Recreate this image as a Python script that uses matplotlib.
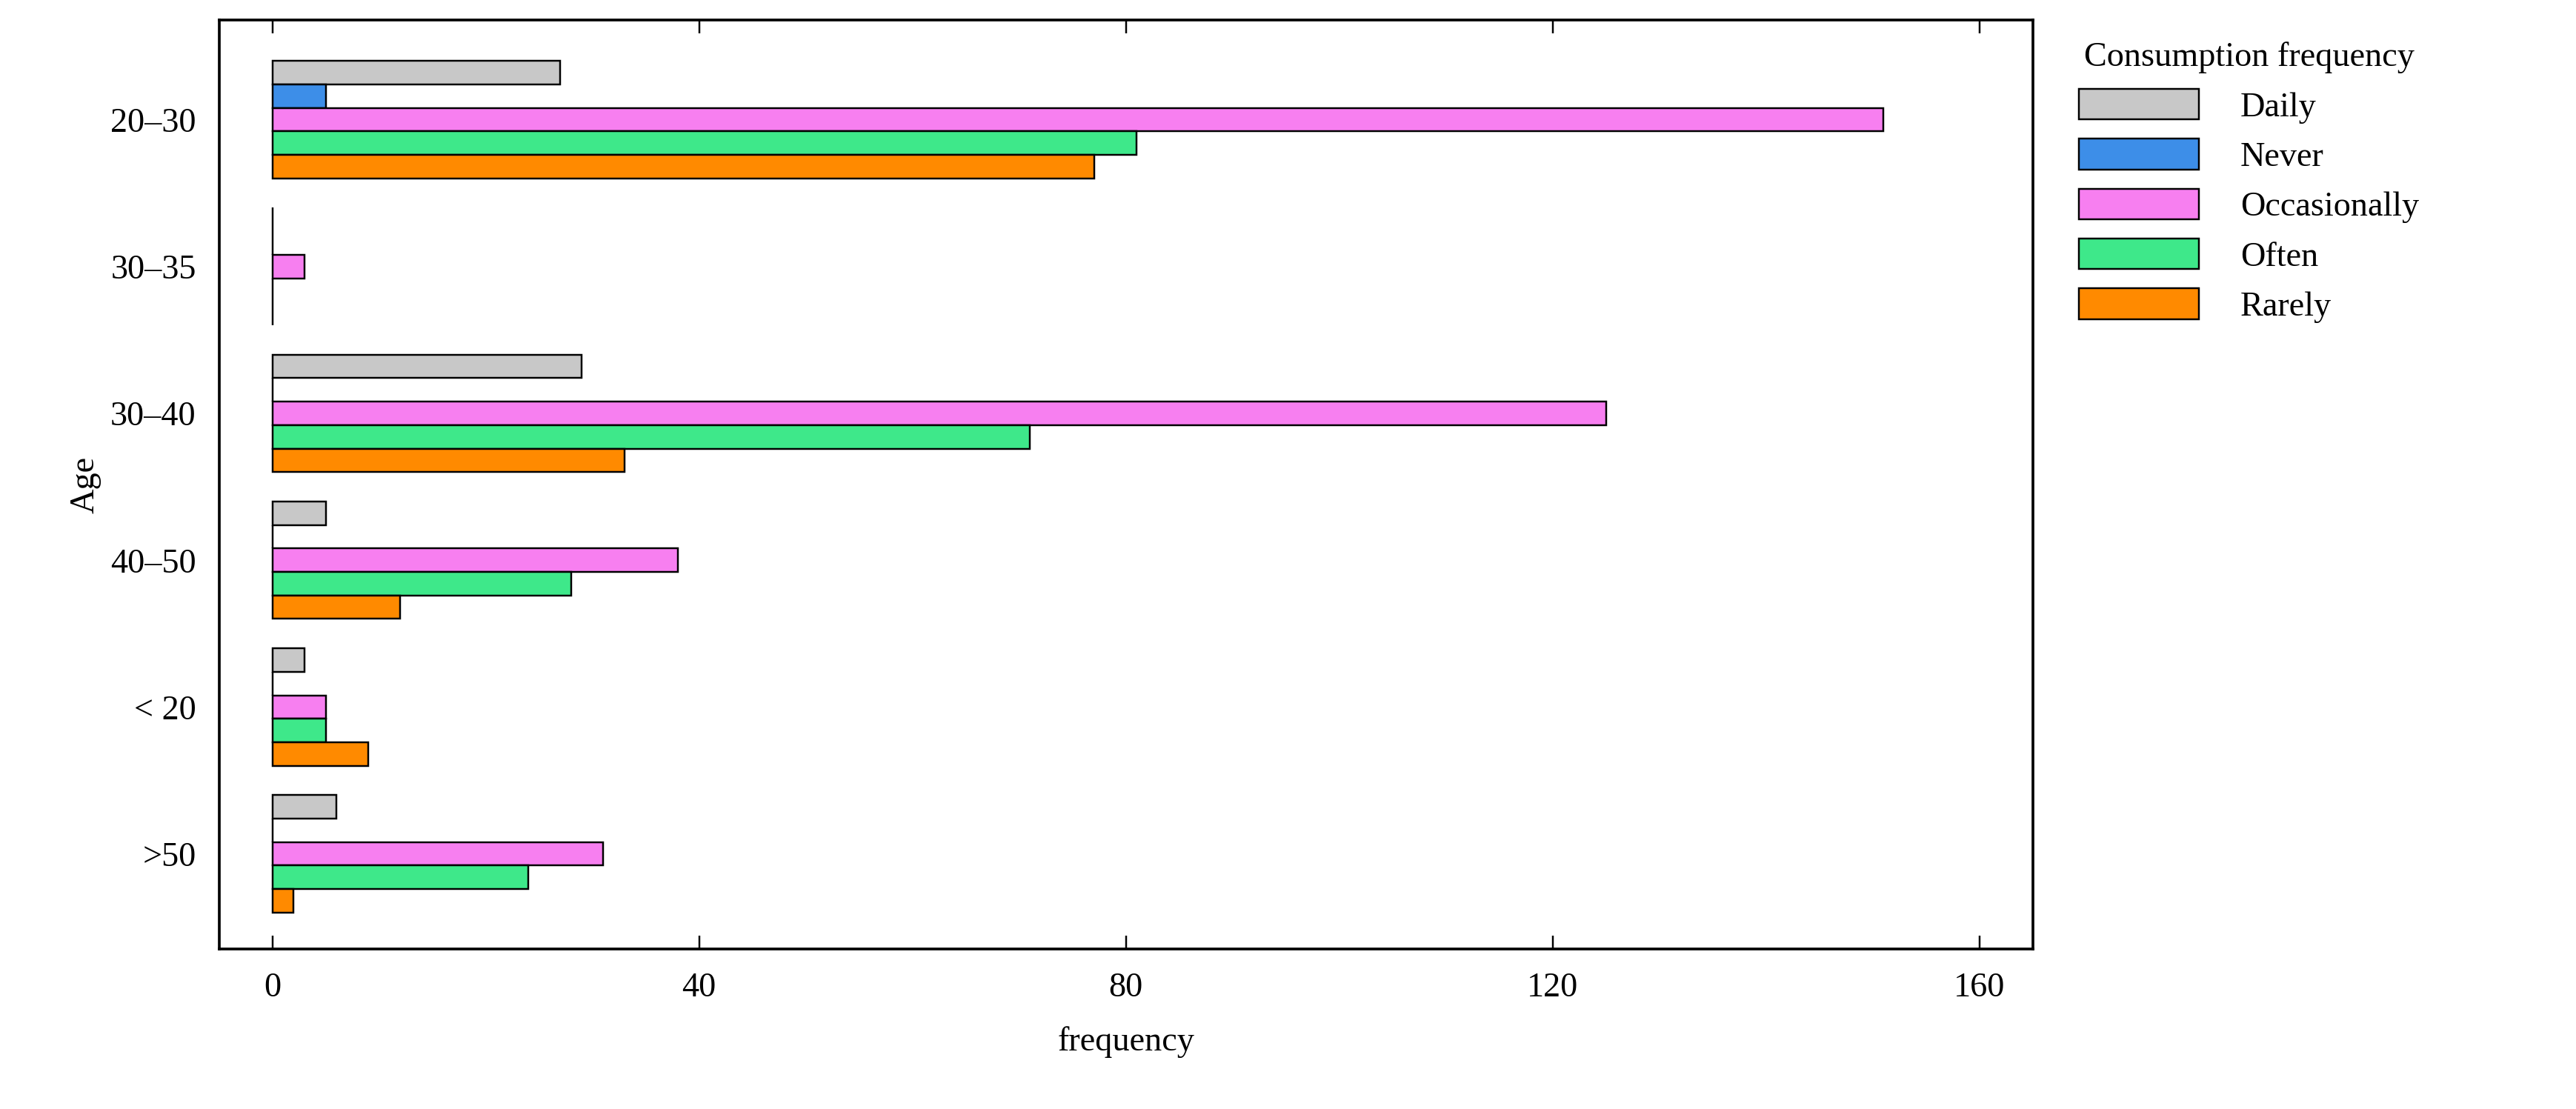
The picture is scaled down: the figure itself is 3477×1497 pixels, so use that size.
import matplotlib
matplotlib.use("Agg")
import matplotlib.pyplot as plt
import numpy as np

plt.rcParams["font.family"] = ["Liberation Serif", "DejaVu Serif"]

ages = ["20–30", "30–35", "30–40", "40–50", "< 20", ">50"]
series = ["Daily", "Never", "Occasionally", "Often", "Rarely"]
colors = ["#c8c8c8", "#3d8ee8", "#f77ff0", "#3ee88a", "#ff8a00"]
values = {
    "Daily": [27, 0, 29, 5, 3, 6],
    "Never": [5, 0, 0, 0, 0, 0],
    "Occasionally": [151, 3, 125, 38, 5, 31],
    "Often": [81, 0, 71, 28, 5, 24],
    "Rarely": [77, 0, 33, 12, 9, 2],
}

fig = plt.figure(figsize=(15.68, 6.75), dpi=221.8)
ax = fig.add_axes([0.085, 0.144, 0.704, 0.838])

y = np.arange(len(ages))
h = 0.16
for i, (name, c) in enumerate(zip(series, colors)):
    ax.barh(y + (i - 2) * h, values[name], height=h, color=c,
            edgecolor="black", linewidth=0.8, label=name)

ax.set_yticks(y)
ax.set_yticklabels(ages)
ax.set_xticks([0, 40, 80, 120, 160])
ax.set_xlim(-5, 165)
ax.set_ylim(5.65, -0.68)
ax.tick_params(axis="x", direction="in", top=True, length=6, labelsize=15, pad=10)
ax.tick_params(axis="y", length=0, labelsize=15, pad=10)
for s in ax.spines.values():
    s.set_linewidth(1.2)
ax.set_xlabel("frequency", fontsize=15, labelpad=10)
ax.set_ylabel("Age", fontsize=15)

fig.legend(loc="upper left", bbox_to_anchor=(0.795, 0.99), frameon=False,
           title="Consumption frequency", title_fontsize=15, fontsize=15,
           handlelength=3.5, handleheight=1.0, labelspacing=0.45,
           handletextpad=1.2)

fig.savefig("out.png", dpi=221.8)
